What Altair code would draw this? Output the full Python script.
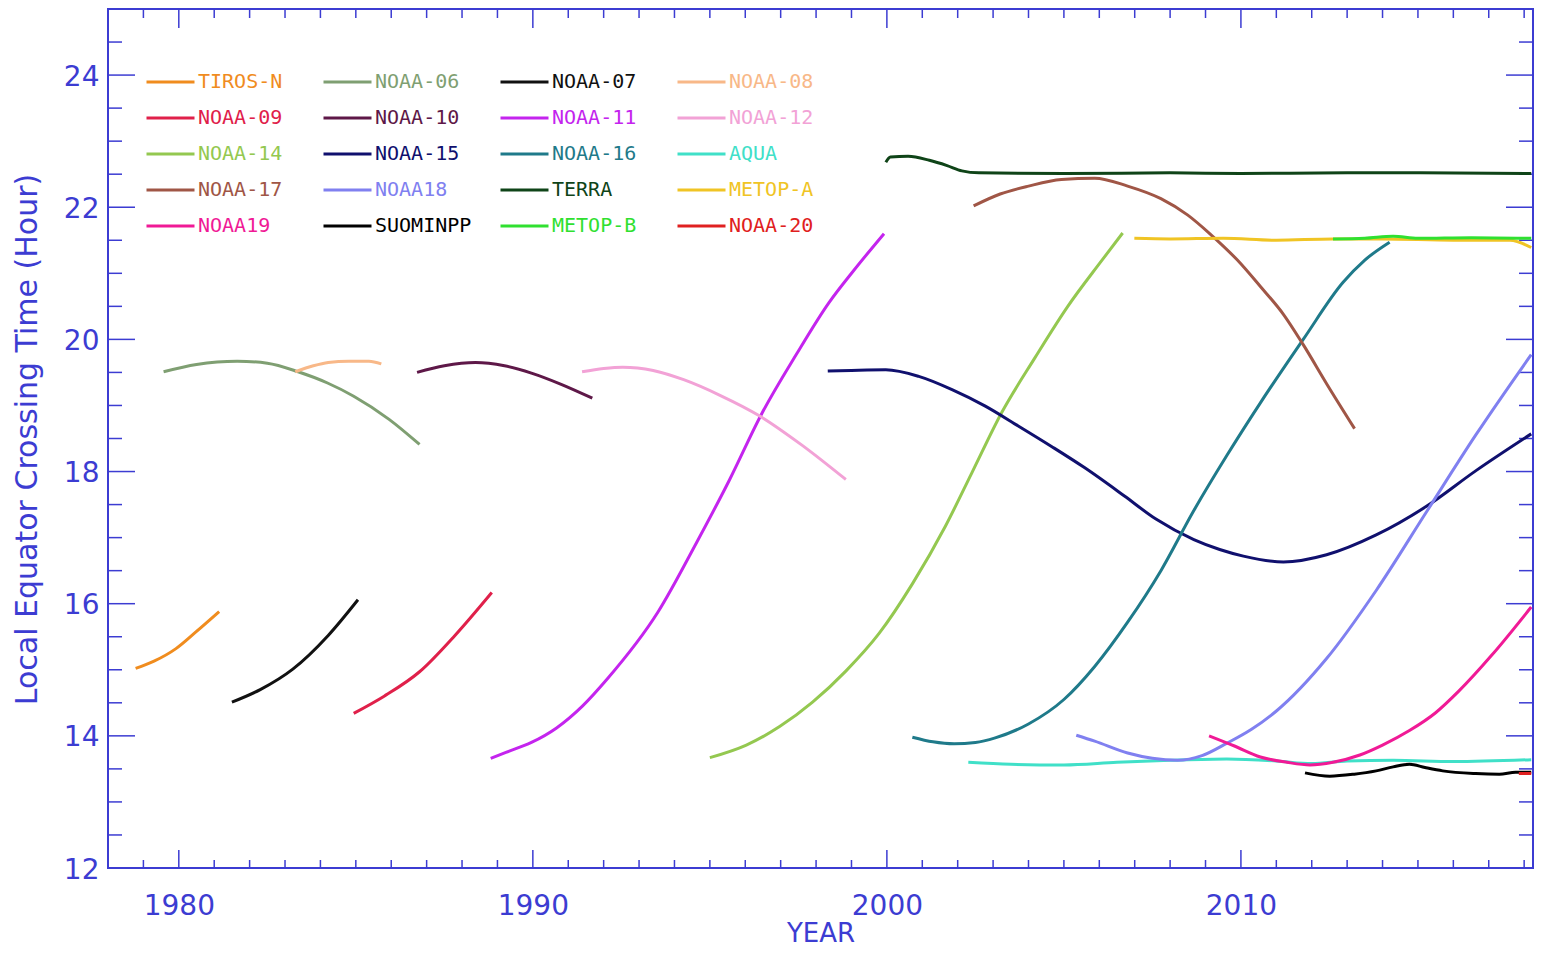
import altair as alt
import pandas as pd

# ---------------- data ----------------
sats = ["TIROS-N", "NOAA-06", "NOAA-07", "NOAA-08",
        "NOAA-09", "NOAA-10", "NOAA-11", "NOAA-12",
        "NOAA-14", "NOAA-15", "NOAA-16", "AQUA",
        "NOAA-17", "NOAA18", "TERRA", "METOP-A",
        "NOAA19", "SUOMINPP", "METOP-B", "NOAA-20"]
colors = ["#f08c1e", "#7f9f72", "#111111", "#f8b888",
          "#e0204a", "#5e1848", "#c424ee", "#f2a2d6",
          "#94c850", "#10106e", "#1f7a8a", "#40e0c8",
          "#a05646", "#8080f0", "#0f4418", "#f0c424",
          "#f01a96", "#000000", "#30e030", "#e02020"]

tiros_n_year = [1978.78, 1979.3, 1979.92, 1980.5, 1981.14]
tiros_n_hour = [15.02, 15.13, 15.32, 15.58, 15.88]
noaa06_year = [1979.57, 1980.5, 1981.65, 1982.5, 1983.37, 1984.2, 1984.94, 1985.94, 1986.8]
noaa06_hour = [19.51, 19.62, 19.67, 19.64, 19.51, 19.34, 19.14, 18.79, 18.41]
noaa07_year = [1981.5, 1982.3, 1983.22, 1984.22, 1985.06]
noaa07_hour = [14.51, 14.7, 15.01, 15.52, 16.06]
noaa08_year = [1983.29, 1983.8, 1984.22, 1984.8, 1985.37, 1985.72]
noaa08_hour = [19.51, 19.6, 19.65, 19.67, 19.67, 19.63]
noaa09_year = [1984.94, 1985.8, 1986.8, 1987.8, 1988.84]
noaa09_hour = [14.34, 14.6, 14.97, 15.52, 16.17]
noaa10_year = [1986.73, 1987.5, 1988.38, 1989.2, 1989.96, 1990.8, 1991.68]
noaa10_hour = [19.5, 19.6, 19.65, 19.6, 19.49, 19.32, 19.11]
noaa11_year = [1988.81, 1989.24, 1989.96, 1990.67, 1991.4, 1992.1, 1993.53, 1994.63, 1995.56,
               1996.45, 1997.44, 1998.37, 1999.03, 1999.92]
noaa11_hour = [13.66, 13.75, 13.9, 14.12, 14.45, 14.86, 15.87, 16.93, 17.88,
               18.86, 19.77, 20.56, 21.02, 21.6]
noaa12_year = [1991.39, 1992.0, 1992.54, 1993.4, 1994.26, 1995.3, 1996.41, 1997.6, 1998.84]
noaa12_hour = [19.51, 19.56, 19.58, 19.53, 19.39, 19.15, 18.84, 18.4, 17.88]
noaa14_year = [1995.0, 1996.03, 1996.97, 1997.9, 1998.84, 1999.78, 2000.72, 2001.66,
               2002.4, 2003.24, 2004.18, 2005.11, 2006.05, 2006.66]
noaa14_hour = [13.67, 13.86, 14.14, 14.51, 14.98, 15.55, 16.3, 17.18,
               17.98, 18.89, 19.72, 20.5, 21.18, 21.61]
noaa15_year = [1998.33, 1999.0, 1999.97, 2000.9, 2001.84, 2002.78, 2003.71, 2004.65,
               2005.58, 2006.71, 2007.6, 2008.67, 2009.4, 2010.07, 2011.2, 2012.42,
               2013.82, 2015.23, 2016.63, 2018.2]
noaa15_hour = [19.52, 19.53, 19.54, 19.44, 19.24, 18.99, 18.69, 18.38,
               18.06, 17.63, 17.28, 16.97, 16.82, 16.72, 16.63, 16.74,
               17.04, 17.47, 18.01, 18.57]
noaa16_year = [2000.72, 2001.3, 2001.9, 2002.5, 2003.06, 2004.0, 2005.0, 2005.87,
               2006.8, 2007.74, 2008.67, 2009.61, 2010.55, 2011.76, 2012.88,
               2013.5, 2014.2]
noaa16_hour = [13.98, 13.91, 13.88, 13.9, 13.97, 14.18, 14.55, 15.05,
               15.72, 16.5, 17.41, 18.25, 19.04, 20.0, 20.86,
               21.2, 21.47]
aqua_year = [2002.3, 2003.5, 2005.0, 2006.5, 2008.0, 2009.6, 2011.0, 2012.0,
             2013.0, 2014.3, 2016.0, 2018.2]
aqua_hour = [13.6, 13.57, 13.56, 13.6, 13.63, 13.65, 13.62, 13.58,
             13.62, 13.63, 13.61, 13.64]
noaa17_year = [2002.45, 2003.2, 2004.0, 2004.93, 2005.87, 2006.8, 2007.74, 2008.5,
               2009.14, 2009.9, 2010.55, 2011.2, 2011.76, 2012.42, 2013.21]
noaa17_hour = [22.02, 22.2, 22.32, 22.42, 22.44, 22.32, 22.13, 21.88,
               21.59, 21.2, 20.8, 20.38, 19.92, 19.33, 18.65]
noaa18_year = [2005.35, 2005.87, 2006.8, 2007.5, 2008.21, 2008.9, 2009.61, 2010.3,
               2011.01, 2012.42, 2013.82, 2015.23, 2016.63, 2018.2]
noaa18_hour = [14.01, 13.92, 13.74, 13.66, 13.63, 13.7, 13.89, 14.1,
               14.38, 15.17, 16.2, 17.38, 18.55, 19.77]
terra_year = [1999.97, 2000.1, 2000.6, 2001.2, 2001.7, 2002.12, 2002.6, 2005.0,
              2008.0, 2010.0, 2013.0, 2015.0, 2018.2]
terra_hour = [22.68, 22.76, 22.77, 22.71, 22.63, 22.55, 22.52, 22.51,
              22.52, 22.51, 22.52, 22.52, 22.51]
metop_a_year = [2006.99, 2008.0, 2009.5, 2011.0, 2012.6, 2014.0, 2016.0, 2017.6, 2018.2]
metop_a_hour = [21.53, 21.52, 21.53, 21.5, 21.52, 21.52, 21.5, 21.5, 21.39]
noaa19_year = [2009.1, 2009.8, 2010.55, 2011.3, 2011.95, 2012.6, 2013.36, 2014.0,
               2014.76, 2015.5, 2016.16, 2017.1, 2018.2]
noaa19_hour = [14.0, 13.85, 13.68, 13.6, 13.56, 13.6, 13.71, 13.86,
               14.08, 14.35, 14.68, 15.23, 15.95]
suominpp_year = [2011.81, 2012.51, 2013.2, 2013.82, 2014.3, 2014.76, 2015.2, 2015.7,
                 2016.63, 2017.3, 2017.76, 2018.2]
suominpp_hour = [13.44, 13.39, 13.42, 13.47, 13.53, 13.57, 13.52, 13.47,
                 13.43, 13.42, 13.45, 13.45]
metop_b_year = [2012.6, 2013.5, 2014.3, 2015.0, 2016.5, 2018.2]
metop_b_hour = [21.52, 21.53, 21.56, 21.53, 21.54, 21.53]
noaa20_year = [2017.85, 2018.2]
noaa20_hour = [13.43, 13.43]

major_years = [1980, 1990, 2000, 2010]
minor_years = [y for y in range(1979, 2019) if y not in major_years]
major_hours = [12, 14, 16, 18, 20, 22, 24]
minor_hours = [12.5, 13, 13.5, 14.5, 15, 15.5, 16.5, 17, 17.5, 18.5, 19, 19.5,
               20.5, 21, 21.5, 22.5, 23, 23.5, 24.5]

series = [
    (tiros_n_year, tiros_n_hour), (noaa06_year, noaa06_hour),
    (noaa07_year, noaa07_hour), (noaa08_year, noaa08_hour),
    (noaa09_year, noaa09_hour), (noaa10_year, noaa10_hour),
    (noaa11_year, noaa11_hour), (noaa12_year, noaa12_hour),
    (noaa14_year, noaa14_hour), (noaa15_year, noaa15_hour),
    (noaa16_year, noaa16_hour), (aqua_year, aqua_hour),
    (noaa17_year, noaa17_hour), (noaa18_year, noaa18_hour),
    (terra_year, terra_hour), (metop_a_year, metop_a_hour),
    (noaa19_year, noaa19_hour), (suominpp_year, suominpp_hour),
    (metop_b_year, metop_b_hour), (noaa20_year, noaa20_hour),
]

rows = []
for i, (name, (ys, hs)) in enumerate(zip(sats, series)):
    for y, h in zip(ys, hs):
        rows.append({"sat": name, "order": i, "year": y, "hour": h})
df = pd.DataFrame(rows)

# ---------------- styling ----------------
AXIS_COLOR = "#3c3cd2"
W, H = 1425, 859
LABEL_FONT = "DejaVu Sans"

x_scale = alt.Scale(domain=[1978, 2018.25], nice=False, zero=False)
y_scale = alt.Scale(domain=[12, 25], nice=False, zero=False)

x_axis = alt.Axis(values=major_years, format="d", title="YEAR", ticks=False,
                  domain=False, grid=False, labelFont=LABEL_FONT, labelFontSize=28,
                  labelColor=AXIS_COLOR, labelPadding=46, labelBaseline="alphabetic",
                  labelFlush=False, titleFont=LABEL_FONT, titleFontSize=26,
                  titleFontWeight="normal", titleColor=AXIS_COLOR, titleY=73,
                  titleBaseline="alphabetic")
y_axis = alt.Axis(values=major_hours, format="d", title="Local Equator Crossing Time (Hour)",
                  ticks=False, domain=False, grid=False, labelFont=LABEL_FONT,
                  labelFontSize=28, labelColor=AXIS_COLOR, labelPadding=9,
                  labelBaseline="middle", labelOffset=2, labelFlush=False,
                  titleFont=LABEL_FONT, titleFontSize=30, titleFontWeight="normal",
                  titleColor=AXIS_COLOR, titleX=-81, titleY=430,
                  titleBaseline="middle", titleAlign="center")


def xenc():
    return alt.X("year:Q", scale=x_scale, axis=x_axis)


def yenc():
    return alt.Y("hour:Q", scale=y_scale, axis=y_axis)


def make_legend(with_encode):
    kw = dict(orient="none", legendX=37, legendY=63, columns=4, direction="horizontal",
              title=None, symbolType="stroke", symbolSize=2304, symbolStrokeWidth=3,
              labelFont="DejaVu Sans Mono", labelFontSize=20, labelOffset=2,
              columnPadding=27, rowPadding=16, clipHeight=20, gridAlign="all",
              padding=0, labelLimit=300)
    if with_encode:
        kw["encode"] = {"labels": {"update": {"fill": {"scale": "color", "field": "value"}}}}
    else:
        kw["labelColor"] = alt.ExprRef(expr="scale('color', datum.value)")
    return alt.Legend(**kw)


def build(with_encode):
    lines = alt.Chart(df).mark_line(strokeWidth=3, clip=True, interpolate="monotone").encode(
        x=xenc(), y=yenc(),
        color=alt.Color("sat:N", scale=alt.Scale(domain=sats, range=colors),
                        legend=make_legend(with_encode)),
        order=alt.Order("year:Q"),
    )

    tick_style = dict(color=AXIS_COLOR, strokeWidth=1.5)
    xmaj = pd.DataFrame({"year": major_years})
    xmin = pd.DataFrame({"year": minor_years})
    ymaj = pd.DataFrame({"hour": major_hours})
    ymin = pd.DataFrame({"hour": minor_hours})

    layers = [
        alt.Chart(xmaj).mark_rule(**tick_style).encode(x=xenc(), y=alt.value(H), y2=alt.value(H - 18)),
        alt.Chart(xmaj).mark_rule(**tick_style).encode(x=xenc(), y=alt.value(0), y2=alt.value(19)),
        alt.Chart(xmin).mark_rule(**tick_style).encode(x=xenc(), y=alt.value(H), y2=alt.value(H - 8)),
        alt.Chart(xmin).mark_rule(**tick_style).encode(x=xenc(), y=alt.value(0), y2=alt.value(9)),
        alt.Chart(ymaj).mark_rule(**tick_style).encode(y=yenc(), x=alt.value(0), x2=alt.value(27)),
        alt.Chart(ymaj).mark_rule(**tick_style).encode(y=yenc(), x=alt.value(W), x2=alt.value(W - 27)),
        alt.Chart(ymin).mark_rule(**tick_style).encode(y=yenc(), x=alt.value(0), x2=alt.value(14)),
        alt.Chart(ymin).mark_rule(**tick_style).encode(y=yenc(), x=alt.value(W), x2=alt.value(W - 14)),
        lines,
    ]
    ch = alt.layer(*layers).properties(
        width=W, height=H,
        padding={"left": 100, "top": 1, "right": 1, "bottom": 81},
        autosize=alt.AutoSizeParams(type="none"),
        background="white",
    ).configure_view(stroke=AXIS_COLOR, strokeWidth=2)
    return ch


try:
    chart = build(True)
    chart.to_dict()
except Exception:
    chart = build(False)

chart.save("out.html", embed_options={"renderer": "svg", "actions": False})
